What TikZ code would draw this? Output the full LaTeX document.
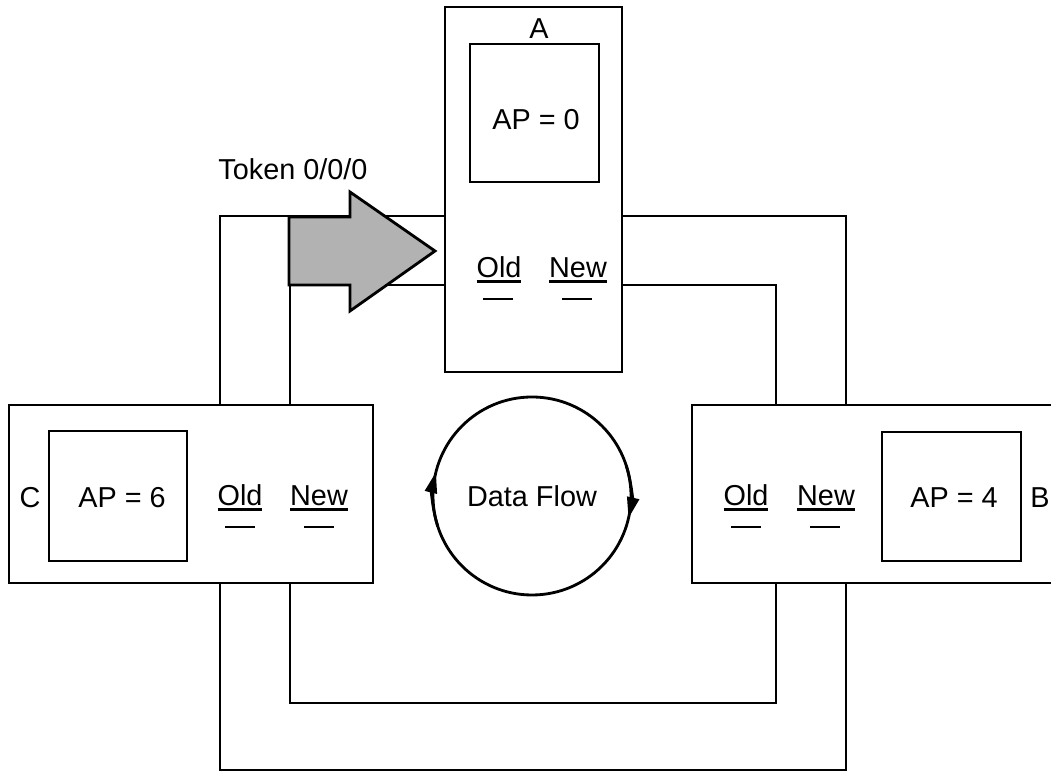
\documentclass[tikz,border=0pt]{standalone}
\usepackage{fontspec}
\setmainfont{Liberation Sans}
\usetikzlibrary{arrows.meta,backgrounds}
\newcommand\ulword[1]{\setbox0\hbox{#1}\rlap{\rule[-1.5pt]{\wd0}{0.75pt}}\box0}

\begin{document}
\begin{tikzpicture}[line width=0.8pt,
  every node/.style={font=\fontsize{8.2}{10}\selectfont},
  box/.style={draw, fill=white, inner sep=0pt},
  tick/.style={inner sep=0pt},
  flowtip/.style={-{Triangle[length=2.1mm,width=1.2mm]}}]
  \useasboundingbox (0,0) rectangle (10.51,-7.72);
  % stations
  \node[box, minimum width=1.77cm, minimum height=3.65cm] (A) at (5.335,-1.895) {};
  \node[box, minimum width=3.64cm, minimum height=1.78cm] (C) at (1.91,-4.94) {};
  \node[box, minimum width=3.78cm, minimum height=1.78cm] (B) at (8.81,-4.94) {};
  % AP boxes
  \node[box, minimum width=1.29cm, minimum height=1.38cm] (apA) at (5.345,-1.13) {};
  \node[box, minimum width=1.38cm, minimum height=1.30cm] (apC) at (1.18,-4.96) {};
  \node[box, minimum width=1.39cm, minimum height=1.29cm] (apB) at (9.515,-4.965) {};
  \node (txtA) at (5.36,-1.20) {AP = 0};
  \node (txtC) at (1.22,-4.98) {AP = 6};
  \node (txtB) at (9.54,-4.98) {AP = 4};
  % station names
  \node (nameA) at (5.39,-0.29) {A};
  \node (nameC) at (0.30,-4.98) {C};
  \node (nameB) at (10.40,-4.98) {B};
  % old / new
  \node (oldA) at (4.99,-2.70) {\ulword{Old}};
  \node (newA) at (5.78,-2.70) {\ulword{New}};
  \node (oldC) at (2.40,-4.98) {\ulword{Old}};
  \node (newC) at (3.19,-4.98) {\ulword{New}};
  \node (oldB) at (7.46,-4.98) {\ulword{Old}};
  \node (newB) at (8.26,-4.98) {\ulword{New}};
  \node[tick] (doA) at (4.98,-2.99) {\rule{3mm}{0.28mm}};
  \node[tick] (dnA) at (5.77,-2.99) {\rule{3mm}{0.28mm}};
  \node[tick] (doC) at (2.40,-5.27) {\rule{3mm}{0.28mm}};
  \node[tick] (dnC) at (3.19,-5.27) {\rule{3mm}{0.28mm}};
  \node[tick] (doB) at (7.46,-5.27) {\rule{3mm}{0.28mm}};
  \node[tick] (dnB) at (8.25,-5.27) {\rule{3mm}{0.28mm}};
  % ring, behind the stations
  \coordinate (oNW) at (2.20,-2.16);
  \coordinate (oSW) at (2.20,-7.70);
  \coordinate (oSE) at (8.46,-7.70);
  \coordinate (oNE) at (8.46,-2.16);
  \coordinate (iNW) at (2.90,-2.85);
  \coordinate (iSW) at (2.90,-7.03);
  \coordinate (iSE) at (7.76,-7.03);
  \coordinate (iNE) at (7.76,-2.85);
  \begin{scope}[on background layer]
    \draw (A.west |- oNW) -- (oNW) -- (oSW) -- (oSE) -- (oNE) -- (A.east |- oNE);
    \draw (A.west |- iNW) -- (iNW) -- (iSW) -- (iSE) -- (iNE) -- (A.east |- iNE);
  \end{scope}
  % token
  \draw[fill=black!30, line join=miter] (2.89,-2.17) -- (3.50,-2.17) -- (3.50,-1.92)
    -- (4.35,-2.51) -- (3.50,-3.11) -- (3.50,-2.85) -- (2.89,-2.85) -- cycle;
  \node (token) at (2.93,-1.69) {Token 0/0/0};
  % data flow
  \node[draw, circle, minimum size=1.98cm, inner sep=0pt] (flow) at (5.32,-4.96) {Data Flow};
  \draw[flowtip] (flow.center) ++(198:0.99) arc[start angle=198, end angle=166, radius=0.99];
  \draw[flowtip] (flow.center) ++(18:0.99) arc[start angle=18, end angle=-13, radius=0.99];
\end{tikzpicture}
\end{document}
